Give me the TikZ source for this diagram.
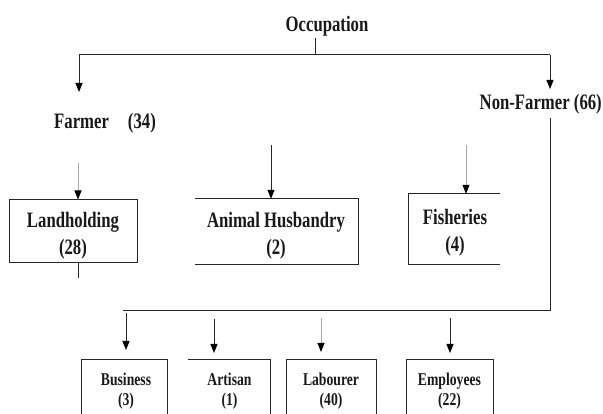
\documentclass[tikz,border=0pt]{standalone}
\usepackage{fontspec}
\setmainfont{Liberation Serif}[FakeStretch=0.76]
\usetikzlibrary{arrows.meta}
\begin{document}
\begin{tikzpicture}[x=1pt,y=-1pt,
  lbl/.style={font=\fontsize{22}{27}\selectfont\bfseries, inner sep=0pt, align=center, text=black!90},
  sml/.style={font=\fontsize{18}{20}\selectfont\bfseries, inner sep=0pt, align=center, text=black!90},
  box/.style={inner sep=0pt},
  ln/.style={draw=black!85, line width=1pt},
  lt/.style={draw=black!35, line width=0.8pt},
  arr/.style={-{Triangle[width=7pt,length=9pt,color=black]}},
]
\useasboundingbox (0,0) rectangle (603,414);

% top
\node[lbl] (occ) at (327,26) {Occupation};
\coordinate (stemtop) at (315,38);
\coordinate (split) at (315,55);
\coordinate (fl) at (79,55);
\coordinate (fr) at (550,55);
\coordinate (farmertip) at (79,92);
\coordinate (nonftip) at (550,89);
\draw[ln] (stemtop) -- (split);
\draw[ln] (fl) -- (fr);
\draw[ln,arr] (fl) -- (farmertip);
\draw[ln,arr] (fr) -- (nonftip);

\node[lbl, anchor=west] (farmer) at (54,123) {Farmer\hspace{19pt}(34)};
\node[lbl, anchor=east] (nonf) at (602,104) {Non-Farmer (66)};

% middle row
\node[box, draw=black!85, line width=1pt, minimum width=128pt, minimum height=63pt] (landbox) at (73,231.5) {};
\node[lbl] (land) at (73,236) {Landholding\\(28)};
\coordinate (landin) at (78,163);
\draw[lt,arr] (landin) -- (landbox.north -| landin);
\coordinate (landout) at (78,278);
\draw[ln] (landbox.south -| landout) -- (landout);

\node[box, minimum width=163pt, minimum height=65pt] (ahbox) at (276.5,231.5) {};
\node[lbl] (ah) at (276,236) {Animal Husbandry\\(2)};
\draw[ln] (ahbox.north west) -- (ahbox.north east) -- (ahbox.south east) -- (ahbox.south west);
\coordinate (ahin) at (271,145);
\draw[ln,arr] (ahin) -- (ahbox.north -| ahin);

\node[box, minimum width=91pt, minimum height=70pt] (fibox) at (454.5,229) {};
\node[lbl] (fi) at (455,233) {Fisheries\\(4)};
\draw[ln] (fibox.north east) -- (fibox.north west) -- (fibox.south west) -- (fibox.south east);
\coordinate (fiin) at (466,145);
\draw[lt,arr] (fiin) -- (fibox.north -| fiin);

% non-farmer branch
\coordinate (nfdown) at (550,118);
\coordinate (nfcorner) at (550,311);
\coordinate (busl) at (123,311);
\draw[ln] (nfdown) -- (nfcorner) -- (busl);

% bottom row
\node[box, minimum width=85pt, minimum height=60pt] (bubox) at (124.5,390) {};
\node[sml] (bu) at (126,391) {Business\\(3)};
\draw[ln] (bubox.south west) -- (bubox.north west) -- (bubox.north east) -- (bubox.south east);
\coordinate (buin) at (126,313);
\coordinate (butip) at (126,350);
\draw[ln,arr] (buin) -- (butip);

\node[box, minimum width=82pt, minimum height=60pt] (arbox) at (229,390) {};
\node[sml] (ar) at (229.5,391) {Artisan\\(1)};
\draw[ln] (arbox.north west) -- (arbox.north east) -- (arbox.south east);
\coordinate (arin) at (214,319);
\coordinate (artip) at (214,353);
\draw[ln,arr] (arin) -- (artip);

\node[box, minimum width=89pt, minimum height=60pt] (labox) at (331.5,390) {};
\node[sml] (la) at (331,391) {Labourer\\(40)};
\draw[ln] (labox.south west) -- (labox.north west) -- (labox.north east) -- (labox.south east);
\coordinate (lain) at (321,318);
\coordinate (latip) at (321,352);
\draw[lt,arr] (lain) -- (latip);

\node[box, minimum width=86pt, minimum height=60pt] (embox) at (450,390) {};
\node[sml] (em) at (449.5,391) {Employees\\(22)};
\draw[ln] (embox.south west) -- (embox.north west) -- (embox.north east) -- (embox.south east);
\coordinate (emin) at (450,318);
\coordinate (emtip) at (450,353);
\draw[ln,arr] (emin) -- (emtip);
\end{tikzpicture}
\end{document}
